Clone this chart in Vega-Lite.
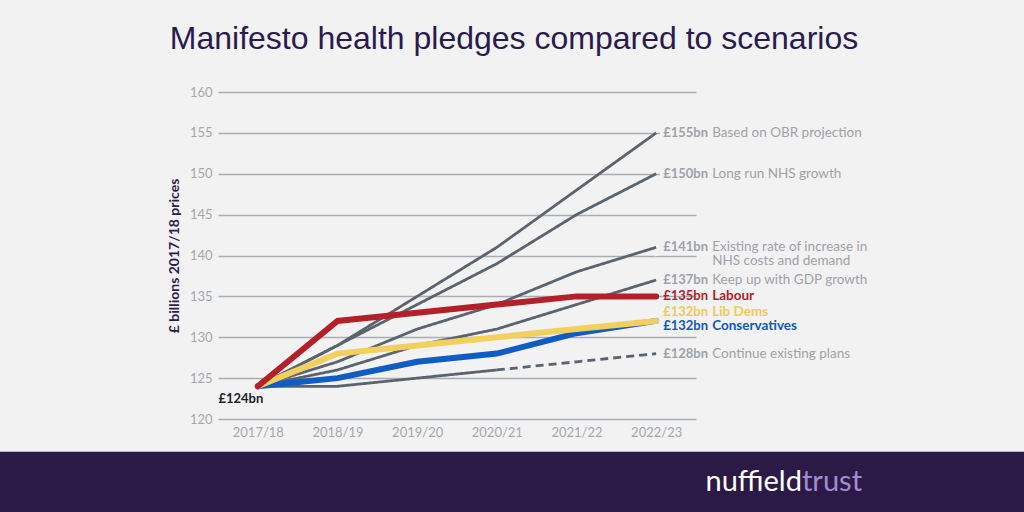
{
  "$schema": "https://vega.github.io/schema/vega-lite/v6.json",
  "width": 478,
  "height": 327,
  "autosize": {"type": "none"},
  "padding": {"left": 218, "top": 92, "right": 328, "bottom": 93},
  "background": "#f2f2f2",
  "config": {"view": {"stroke": null}, "font": "Lato"},
  "title": {
    "text": "Manifesto health pledges compared to scenarios",
    "font": "Liberation Sans",
    "fontSize": 32,
    "fontWeight": "normal",
    "color": "#2a1b4f",
    "anchor": "middle",
    "dx": 57,
    "offset": 30
  },
  "datasets": {
    "brand": [
      {"first": "nuffield", "second": "trust"}
    ],
    "lines": [
      {"series": "Based on OBR projection", "group": "scenario", "status": "planned", "year": 2017, "value": 124},
      {"series": "Based on OBR projection", "group": "scenario", "status": "planned", "year": 2018, "value": 129},
      {"series": "Based on OBR projection", "group": "scenario", "status": "planned", "year": 2019, "value": 135},
      {"series": "Based on OBR projection", "group": "scenario", "status": "planned", "year": 2020, "value": 141},
      {"series": "Based on OBR projection", "group": "scenario", "status": "planned", "year": 2021, "value": 148},
      {"series": "Based on OBR projection", "group": "scenario", "status": "planned", "year": 2022, "value": 155},
      {"series": "Long run NHS growth", "group": "scenario", "status": "planned", "year": 2017, "value": 124},
      {"series": "Long run NHS growth", "group": "scenario", "status": "planned", "year": 2018, "value": 129},
      {"series": "Long run NHS growth", "group": "scenario", "status": "planned", "year": 2019, "value": 134},
      {"series": "Long run NHS growth", "group": "scenario", "status": "planned", "year": 2020, "value": 139},
      {"series": "Long run NHS growth", "group": "scenario", "status": "planned", "year": 2021, "value": 145},
      {"series": "Long run NHS growth", "group": "scenario", "status": "planned", "year": 2022, "value": 150},
      {"series": "Existing rate of increase", "group": "scenario", "status": "planned", "year": 2017, "value": 124},
      {"series": "Existing rate of increase", "group": "scenario", "status": "planned", "year": 2018, "value": 127},
      {"series": "Existing rate of increase", "group": "scenario", "status": "planned", "year": 2019, "value": 131},
      {"series": "Existing rate of increase", "group": "scenario", "status": "planned", "year": 2020, "value": 134},
      {"series": "Existing rate of increase", "group": "scenario", "status": "planned", "year": 2021, "value": 138},
      {"series": "Existing rate of increase", "group": "scenario", "status": "planned", "year": 2022, "value": 141},
      {"series": "Keep up with GDP growth", "group": "scenario", "status": "planned", "year": 2017, "value": 124},
      {"series": "Keep up with GDP growth", "group": "scenario", "status": "planned", "year": 2018, "value": 126},
      {"series": "Keep up with GDP growth", "group": "scenario", "status": "planned", "year": 2019, "value": 129},
      {"series": "Keep up with GDP growth", "group": "scenario", "status": "planned", "year": 2020, "value": 131},
      {"series": "Keep up with GDP growth", "group": "scenario", "status": "planned", "year": 2021, "value": 134},
      {"series": "Keep up with GDP growth", "group": "scenario", "status": "planned", "year": 2022, "value": 137},
      {"series": "Continue existing plans", "group": "scenario", "status": "planned", "year": 2017, "value": 124},
      {"series": "Continue existing plans", "group": "scenario", "status": "planned", "year": 2018, "value": 124},
      {"series": "Continue existing plans", "group": "scenario", "status": "planned", "year": 2019, "value": 125},
      {"series": "Continue existing plans", "group": "scenario", "status": "planned", "year": 2020, "value": 126},
      {"series": "Continue existing plans", "group": "scenario", "status": "projected", "year": 2020, "value": 126},
      {"series": "Continue existing plans", "group": "scenario", "status": "projected", "year": 2021, "value": 127},
      {"series": "Continue existing plans", "group": "scenario", "status": "projected", "year": 2022, "value": 128},
      {"series": "Conservatives", "group": "party", "status": "planned", "year": 2017, "value": 124},
      {"series": "Conservatives", "group": "party", "status": "planned", "year": 2018, "value": 125},
      {"series": "Conservatives", "group": "party", "status": "planned", "year": 2019, "value": 127},
      {"series": "Conservatives", "group": "party", "status": "planned", "year": 2020, "value": 128},
      {"series": "Conservatives", "group": "party", "status": "planned", "year": 2021, "value": 130.5},
      {"series": "Conservatives", "group": "party", "status": "planned", "year": 2022, "value": 132},
      {"series": "Lib Dems", "group": "party", "status": "planned", "year": 2017, "value": 124},
      {"series": "Lib Dems", "group": "party", "status": "planned", "year": 2018, "value": 128},
      {"series": "Lib Dems", "group": "party", "status": "planned", "year": 2019, "value": 129},
      {"series": "Lib Dems", "group": "party", "status": "planned", "year": 2020, "value": 130},
      {"series": "Lib Dems", "group": "party", "status": "planned", "year": 2021, "value": 131},
      {"series": "Lib Dems", "group": "party", "status": "planned", "year": 2022, "value": 132},
      {"series": "Labour", "group": "party", "status": "planned", "year": 2017, "value": 124},
      {"series": "Labour", "group": "party", "status": "planned", "year": 2018, "value": 132},
      {"series": "Labour", "group": "party", "status": "planned", "year": 2019, "value": 133},
      {"series": "Labour", "group": "party", "status": "planned", "year": 2020, "value": 134},
      {"series": "Labour", "group": "party", "status": "planned", "year": 2021, "value": 135},
      {"series": "Labour", "group": "party", "status": "planned", "year": 2022, "value": 135}
    ],
    "labels": [
      {"series": "Based on OBR projection", "group": "scenario", "year": 2022, "value": 155, "amount": "£155bn", "desc": "Based on OBR projection"},
      {"series": "Long run NHS growth", "group": "scenario", "year": 2022, "value": 150, "amount": "£150bn", "desc": "Long run NHS growth"},
      {"series": "Existing rate of increase", "group": "scenario", "year": 2022, "value": 141, "amount": "£141bn\n", "desc": "Existing rate of increase in\nNHS costs and demand"},
      {"series": "Keep up with GDP growth", "group": "scenario", "year": 2022, "value": 137, "amount": "£137bn", "desc": "Keep up with GDP growth"},
      {"series": "Continue existing plans", "group": "scenario", "year": 2022, "value": 128, "amount": "£128bn", "desc": "Continue existing plans"},
      {"series": "Labour", "group": "party", "year": 2022, "value": 135, "amount": "£135bn", "desc": "Labour"},
      {"series": "Lib Dems", "group": "party", "year": 2022, "value": 132, "amount": "£132bn", "desc": "Lib Dems"},
      {"series": "Conservatives", "group": "party", "year": 2022, "value": 132, "amount": "£132bn", "desc": "Conservatives"}
    ],
    "start": [
      {"year": 2017, "value": 124, "amount": "£124bn"}
    ]
  },
  "layer": [
    {
      "data": {"name": "brand"},
      "mark": {"type": "rect", "clip": false, "color": "#2b1a46"},
      "encoding": {
        "x": {"datum": 2013.6, "type": "quantitative"},
        "x2": {"datum": 2026.8},
        "y": {"datum": 116.0, "type": "quantitative"},
        "y2": {"datum": 108.0}
      }
    },
    {
      "data": {"name": "brand"},
      "mark": {"type": "text", "clip": false, "align": "right", "baseline": "alphabetic", "font": "Lato", "fontSize": 29, "color": "#ffffff"},
      "encoding": {
        "x": {"datum": 2023.83, "type": "quantitative"},
        "y": {"datum": 111.2, "type": "quantitative"},
        "text": {"field": "first"}
      }
    },
    {
      "data": {"name": "brand"},
      "mark": {"type": "text", "clip": false, "align": "left", "baseline": "alphabetic", "font": "Lato", "fontSize": 29, "color": "#a48ad1"},
      "encoding": {
        "x": {"datum": 2023.83, "type": "quantitative"},
        "y": {"datum": 111.2, "type": "quantitative"},
        "text": {"field": "second"}
      }
    },
    {
      "encoding": {
        "x": {
          "field": "year",
          "type": "quantitative",
          "scale": {"domain": [2016.5, 2022.5], "nice": false, "zero": false},
          "axis": {
            "values": [2017, 2018, 2019, 2020, 2021, 2022],
            "labelExpr": "datum.value + '/' + ((datum.value + 1) % 100)",
            "title": null,
            "domain": false,
            "ticks": false,
            "grid": false,
            "labelColor": "#a4a7ad",
            "labelFont": "Lato",
            "labelFontSize": 13,
            "labelPadding": 7
          }
        },
        "y": {
          "field": "value",
          "type": "quantitative",
          "scale": {"domain": [120, 160], "nice": false, "zero": false},
          "axis": {
            "values": [120, 125, 130, 135, 140, 145, 150, 155, 160],
            "title": "£ billions 2017/18 prices",
            "titleFont": "Lato",
            "titleFontSize": 14,
            "titleFontWeight": "bold",
            "titleColor": "#2b1d4e",
            "titlePadding": 8,
            "domain": false,
            "ticks": false,
            "grid": true,
            "gridColor": "#a9acb1",
            "gridWidth": 1.5,
            "labelColor": "#a4a7ad",
            "labelFont": "Lato",
            "labelFontSize": 13,
            "labelPadding": 6
          }
        }
      },
      "layer": [
        {
          "data": {"name": "lines"},
          "transform": [{"filter": "datum.group === 'scenario'"}],
          "mark": {"type": "line", "color": "#5a646e", "strokeWidth": 2.8},
          "encoding": {
            "detail": {"field": "series"},
            "strokeDash": {
              "field": "status",
              "scale": {"domain": ["planned", "projected"], "range": [[1, 0], [8, 5]]},
              "legend": null
            }
          }
        },
        {
          "data": {"name": "lines"},
          "transform": [{"filter": "datum.group === 'party'"}],
          "mark": {"type": "line", "strokeWidth": 6, "strokeCap": "round"},
          "encoding": {
            "color": {
              "field": "series",
              "scale": {"domain": ["Conservatives", "Lib Dems", "Labour"], "range": ["#0f5cc4", "#f3cf5e", "#b3202a"]},
              "legend": null
            }
          }
        },
        {
          "data": {"name": "start"},
          "mark": {"type": "text", "font": "Lato", "fontSize": 13, "fontWeight": "bold", "color": "#1e1e2c", "align": "center", "dx": -17, "dy": 13},
          "encoding": {"text": {"field": "amount"}}
        },
        {
          "data": {"name": "labels"},
          "transform": [{"filter": "datum.group === 'scenario'"}],
          "mark": {"type": "text", "font": "Lato", "fontSize": 13, "fontWeight": "bold", "color": "#f2f2f2", "stroke": "#f2f2f2", "strokeWidth": 7, "align": "left", "baseline": "middle", "dx": 7, "lineBreak": "\n", "lineHeight": 14},
          "encoding": {"text": {"field": "amount"}}
        },
        {
          "data": {"name": "labels"},
          "transform": [{"filter": "datum.group === 'scenario'"}],
          "mark": {"type": "text", "font": "Lato", "fontSize": 13.5, "fontWeight": "normal", "color": "#f2f2f2", "stroke": "#f2f2f2", "strokeWidth": 7, "align": "left", "baseline": "middle", "dx": 56, "lineBreak": "\n", "lineHeight": 14},
          "encoding": {"text": {"field": "desc"}}
        },
        {
          "data": {"name": "labels"},
          "transform": [{"filter": "datum.group === 'scenario'"}],
          "mark": {"type": "text", "font": "Lato", "fontSize": 13, "fontWeight": "bold", "color": "#9ea2a9", "align": "left", "baseline": "middle", "dx": 7, "lineBreak": "\n", "lineHeight": 14},
          "encoding": {"text": {"field": "amount"}}
        },
        {
          "data": {"name": "labels"},
          "transform": [{"filter": "datum.group === 'scenario'"}],
          "mark": {"type": "text", "font": "Lato", "fontSize": 13.5, "fontWeight": "normal", "color": "#9ea2a9", "align": "left", "baseline": "middle", "dx": 56, "lineBreak": "\n", "lineHeight": 14},
          "encoding": {"text": {"field": "desc"}}
        },
        {
          "data": {"name": "labels"},
          "transform": [{"filter": "datum.series === 'Labour'"}],
          "mark": {"type": "text", "font": "Lato", "fontSize": 13, "fontWeight": "bold", "color": "#b3202a", "align": "left", "baseline": "middle", "dx": 7},
          "encoding": {"text": {"field": "amount"}}
        },
        {
          "data": {"name": "labels"},
          "transform": [{"filter": "datum.series === 'Labour'"}],
          "mark": {"type": "text", "font": "Lato", "fontSize": 13.5, "fontWeight": "bold", "color": "#b3202a", "align": "left", "baseline": "middle", "dx": 56},
          "encoding": {"text": {"field": "desc"}}
        },
        {
          "data": {"name": "labels"},
          "transform": [{"filter": "datum.series === 'Lib Dems'"}],
          "mark": {"type": "text", "font": "Lato", "fontSize": 13, "fontWeight": "bold", "color": "#f0cb55", "align": "left", "baseline": "middle", "dx": 7, "dy": -9},
          "encoding": {"text": {"field": "amount"}}
        },
        {
          "data": {"name": "labels"},
          "transform": [{"filter": "datum.series === 'Lib Dems'"}],
          "mark": {"type": "text", "font": "Lato", "fontSize": 13.5, "fontWeight": "bold", "color": "#f0cb55", "align": "left", "baseline": "middle", "dx": 56, "dy": -9},
          "encoding": {"text": {"field": "desc"}}
        },
        {
          "data": {"name": "labels"},
          "transform": [{"filter": "datum.series === 'Conservatives'"}],
          "mark": {"type": "text", "font": "Lato", "fontSize": 13, "fontWeight": "bold", "color": "#1456bd", "align": "left", "baseline": "middle", "dx": 7, "dy": 5},
          "encoding": {"text": {"field": "amount"}}
        },
        {
          "data": {"name": "labels"},
          "transform": [{"filter": "datum.series === 'Conservatives'"}],
          "mark": {"type": "text", "font": "Lato", "fontSize": 13.5, "fontWeight": "bold", "color": "#1456bd", "align": "left", "baseline": "middle", "dx": 56, "dy": 5},
          "encoding": {"text": {"field": "desc"}}
        }
      ]
    }
  ]
}
